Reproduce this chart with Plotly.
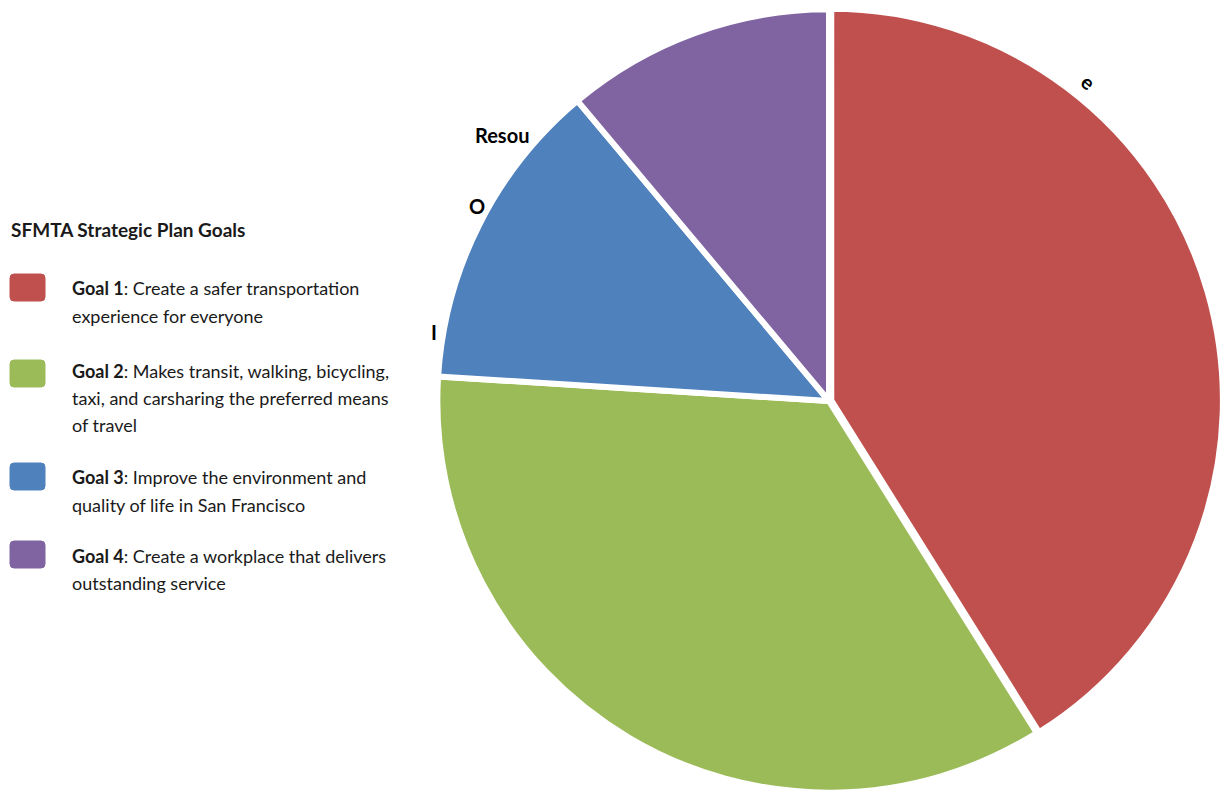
import plotly.graph_objects as go

# ---- data ----
goals = ["Goal 1", "Goal 2", "Goal 3", "Goal 4"]
shares = [41.1, 34.9, 12.9, 11.1]
pulls = [0.006, 0, 0, 0]
colors = ["#C0504D", "#9BBB59", "#4F81BD", "#8064A2"]
goal_lines = [
    ["Create a safer transportation", "experience for everyone"],
    ["Makes transit, walking, bicycling,", "taxi, and carsharing the preferred means", "of travel"],
    ["Improve the environment and", "quality of life in San Francisco"],
    ["Create a workplace that delivers", "outstanding service"],
]
legend_title = "SFMTA Strategic Plan Goals"
# fragments of clipped slice labels visible in the original
fragments = ["Resou", "O", "I", "e"]

W, H = 1225, 795
FONT = "Lato"

def px(x):
    return x / W

def py(y):
    return 1 - y / H

fig = go.Figure()
fig.add_trace(go.Pie(
    labels=goals,
    values=shares,
    pull=pulls,
    sort=False,
    direction="clockwise",
    rotation=0,
    marker=dict(colors=colors, line=dict(color="white", width=6)),
    textinfo="none",
    hoverinfo="label+percent",
    showlegend=False,
    domain=dict(x=[px(435), px(1223)], y=[0, py(7)]),
))

annotations = []
shapes = []
annotations.append(dict(
    x=px(9), y=py(230), xref="paper", yref="paper", xanchor="left", yanchor="middle",
    text="<b>" + legend_title + "</b>", showarrow=False,
    font=dict(family=FONT, size=19, color="#1a1a1a"),
))

def rrect(x0, y0, x1, y1, r=4):
    # rounded rectangle path in pixel coords converted to paper coords
    X = lambda v: px(v)
    Y = lambda v: py(v)
    return (f"M {X(x0+r)},{Y(y0)} L {X(x1-r)},{Y(y0)} Q {X(x1)},{Y(y0)} {X(x1)},{Y(y0+r)} "
            f"L {X(x1)},{Y(y1-r)} Q {X(x1)},{Y(y1)} {X(x1-r)},{Y(y1)} "
            f"L {X(x0+r)},{Y(y1)} Q {X(x0)},{Y(y1)} {X(x0)},{Y(y1-r)} "
            f"L {X(x0)},{Y(y0+r)} Q {X(x0)},{Y(y0)} {X(x0+r)},{Y(y0)} Z")

swatch_tops = [274, 360, 463, 541]
line_tops = [[288, 316], [371, 398, 425], [477, 505], [556, 583]]
for i, g in enumerate(goals):
    t = swatch_tops[i]
    shapes.append(dict(
        type="path", xref="paper", yref="paper",
        path=rrect(10, t, 45, t + 27),
        fillcolor=colors[i], line=dict(color=colors[i], width=1),
        layer="above",
    ))
    for j, line in enumerate(goal_lines[i]):
        txt = ("<b>" + g + "</b>: " + line) if j == 0 else line
        annotations.append(dict(
            x=px(70), y=py(line_tops[i][j]), xref="paper", yref="paper",
            xanchor="left", yanchor="middle", text=txt, showarrow=False,
            font=dict(family=FONT, size=18, color="#1a1a1a"),
        ))

frag_pos = [(473, 135, 0), (467, 206, 0), (429, 332, 0), (1074, 82, 40)]
for f, (x, y, ang) in zip(fragments, frag_pos):
    annotations.append(dict(
        x=px(x), y=py(y), xref="paper", yref="paper", xanchor="left", yanchor="middle",
        text="<b>" + f + "</b>", showarrow=False, textangle=ang,
        font=dict(family=FONT, size=20, color="black"),
    ))

fig.update_layout(
    width=W, height=H,
    margin=dict(l=0, r=0, t=0, b=0),
    paper_bgcolor="white", plot_bgcolor="white",
    annotations=annotations, shapes=shapes,
)

fig.write_html("out.html")
